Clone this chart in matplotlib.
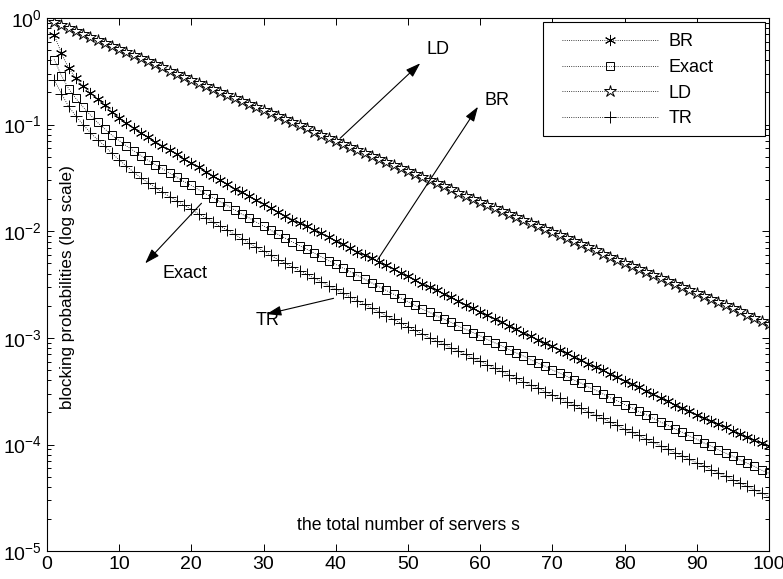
import numpy as np
import matplotlib
matplotlib.use('Agg')
import matplotlib.pyplot as plt
from matplotlib.patches import Rectangle

plt.rcParams['font.family'] = ['Liberation Sans', 'DejaVu Sans']
plt.rcParams['mathtext.default'] = 'regular'

# number of servers
servers = list(range(1, 101))

# blocking probabilities, stored as log10 values
log_br = [
    -0.16, -0.33, -0.47, -0.565, -0.64, -0.70, -0.76, -0.82, -0.88, -0.935,
    -0.985, -1.035, -1.08, -1.12, -1.16, -1.20, -1.24, -1.28, -1.32, -1.36,
    -1.40, -1.44, -1.48, -1.52, -1.56, -1.60, -1.635, -1.67, -1.71, -1.745,
    -1.78, -1.82, -1.855, -1.89, -1.92, -1.955, -1.99, -2.02, -2.055, -2.09,
    -2.12, -2.155, -2.19, -2.22, -2.255, -2.29, -2.32, -2.355, -2.39, -2.42,
    -2.455, -2.49, -2.52, -2.555, -2.59, -2.62, -2.655, -2.69, -2.72, -2.755,
    -2.785, -2.82, -2.85, -2.885, -2.92, -2.95, -2.985, -3.015, -3.05, -3.08,
    -3.115, -3.145, -3.175, -3.21, -3.24, -3.27, -3.305, -3.335, -3.37, -3.40,
    -3.43, -3.465, -3.495, -3.53, -3.56, -3.59, -3.625, -3.655, -3.685, -3.72,
    -3.75, -3.78, -3.81, -3.84, -3.875, -3.905, -3.93, -3.96, -3.985, -4.01,
]
log_exact = [
    -0.39, -0.54, -0.665, -0.755, -0.835, -0.91, -0.98, -1.04, -1.10, -1.15,
    -1.20, -1.245, -1.29, -1.335, -1.375, -1.415, -1.455, -1.495, -1.535, -1.57,
    -1.61, -1.65, -1.685, -1.725, -1.76, -1.80, -1.84, -1.875, -1.915, -1.95,
    -1.99, -2.03, -2.065, -2.10, -2.135, -2.17, -2.205, -2.24, -2.275, -2.31,
    -2.345, -2.38, -2.415, -2.45, -2.485, -2.52, -2.555, -2.59, -2.625, -2.66,
    -2.695, -2.73, -2.76, -2.795, -2.825, -2.855, -2.89, -2.92, -2.95, -2.98,
    -3.015, -3.045, -3.075, -3.11, -3.14, -3.17, -3.205, -3.235, -3.265, -3.30,
    -3.33, -3.36, -3.395, -3.425, -3.46, -3.49, -3.525, -3.56, -3.59, -3.625,
    -3.655, -3.69, -3.72, -3.755, -3.79, -3.82, -3.855, -3.885, -3.92, -3.95,
    -3.985, -4.015, -4.05, -4.08, -4.11, -4.145, -4.175, -4.205, -4.24, -4.27,
]
log_ld = [
    -0.035, -0.064, -0.092, -0.121, -0.149, -0.178, -0.207, -0.235, -0.264, -0.292,
    -0.321, -0.350, -0.378, -0.407, -0.435, -0.464, -0.493, -0.521, -0.550, -0.578,
    -0.607, -0.636, -0.664, -0.693, -0.721, -0.750, -0.779, -0.807, -0.836, -0.864,
    -0.893, -0.922, -0.950, -0.979, -1.007, -1.036, -1.065, -1.093, -1.122, -1.150,
    -1.179, -1.208, -1.236, -1.265, -1.293, -1.322, -1.351, -1.379, -1.408, -1.436,
    -1.465, -1.494, -1.522, -1.551, -1.579, -1.608, -1.637, -1.665, -1.694, -1.722,
    -1.751, -1.780, -1.808, -1.837, -1.865, -1.894, -1.923, -1.951, -1.980, -2.008,
    -2.037, -2.066, -2.094, -2.123, -2.151, -2.180, -2.209, -2.237, -2.266, -2.294,
    -2.323, -2.352, -2.380, -2.409, -2.437, -2.466, -2.495, -2.523, -2.552, -2.580,
    -2.609, -2.638, -2.666, -2.695, -2.723, -2.752, -2.781, -2.809, -2.838, -2.866,
]
log_tr = [
    -0.58, -0.71, -0.83, -0.92, -1.00, -1.075, -1.14, -1.20, -1.27, -1.33,
    -1.39, -1.445, -1.50, -1.545, -1.59, -1.635, -1.675, -1.715, -1.755, -1.795,
    -1.835, -1.875, -1.915, -1.955, -1.99, -2.03, -2.07, -2.11, -2.15, -2.185,
    -2.225, -2.265, -2.30, -2.335, -2.37, -2.405, -2.44, -2.475, -2.51, -2.545,
    -2.58, -2.615, -2.65, -2.685, -2.72, -2.755, -2.79, -2.825, -2.86, -2.895,
    -2.93, -2.965, -3.00, -3.03, -3.06, -3.095, -3.125, -3.155, -3.19, -3.22,
    -3.25, -3.28, -3.315, -3.345, -3.375, -3.41, -3.44, -3.47, -3.505, -3.535,
    -3.565, -3.60, -3.63, -3.66, -3.695, -3.725, -3.755, -3.79, -3.82, -3.855,
    -3.885, -3.915, -3.95, -3.98, -4.01, -4.045, -4.075, -4.105, -4.14, -4.17,
    -4.20, -4.235, -4.265, -4.295, -4.33, -4.36, -4.39, -4.425, -4.455, -4.49,
]

# arrow annotations: label, text position, arrow tail, arrow head (s, probability)
notes = [
    ('LD', (54.2, 0.51), (40.6, 0.0744), (51.7, 0.376)),
    ('BR', (62.3, 0.17), (45.8, 5.4e-3), (59.7, 0.147)),
    ('Exact', (19.1, 4.06e-3), (21.4, 0.0183), (13.6, 5.0e-3)),
    ('TR', (30.6, 1.47e-3), (39.7, 2.35e-3), (30.4, 1.67e-3)),
]

fig = plt.figure(figsize=(7.83, 5.79), dpi=100)
ax = fig.add_axes([0.060, 0.048, 0.922, 0.921])

style = dict(color='k', linestyle=':', linewidth=0.6, markeredgewidth=0.7)
ax.semilogy(servers, 10 ** np.array(log_br), marker=(6, 2, 0), markersize=8,
            label='BR', **style)
ax.semilogy(servers, 10 ** np.array(log_exact), marker='s', markersize=6,
            markerfacecolor='none', label='Exact', **style)
ax.semilogy(servers, 10 ** np.array(log_ld), marker='*', markersize=9,
            markerfacecolor='white', label='LD', **style)
ax.semilogy(servers, 10 ** np.array(log_tr), marker='+', markersize=8,
            label='TR', **style)

for name, txt, tail, head in notes:
    ax.annotate('', xy=head, xytext=tail,
                arrowprops=dict(arrowstyle='-|>,head_length=0.9,head_width=0.3',
                                color='k', lw=0.8, shrinkA=0, shrinkB=0))
    ax.text(txt[0], txt[1], name, fontsize=13, ha='center', va='center')

ax.set_xlim(0, 100)
ax.set_ylim(1e-5, 1)
ax.set_xticks(np.arange(0, 101, 10))
ax.tick_params(which='both', direction='in', top=True, right=True,
               labelsize=14, width=0.7)
ax.tick_params(which='major', length=5)
ax.tick_params(which='minor', length=3)
for sp in ax.spines.values():
    sp.set_linewidth(0.8)

ax.set_xlabel('the total number of servers s', fontsize=12.7)
ax.xaxis.set_label_coords(0.5, 0.049)
ax.xaxis.label.set_va('center')
ax.set_ylabel('blocking probabilities (log scale)', fontsize=12.3)
ax.yaxis.set_label_coords(0.028, 0.495)
ax.yaxis.label.set_va('center')

# legend box drawn separately so the padding can be set freely
ax.add_patch(Rectangle((0.6866, 0.7786), 0.3079, 0.2145, transform=ax.transAxes,
                       facecolor='white', edgecolor='k', linewidth=0.8, zorder=4))
leg = ax.legend(loc='upper left', bbox_to_anchor=(0.7133, 0.971),
                borderaxespad=0, borderpad=0, frameon=False, fontsize=13,
                handlelength=5.3, handletextpad=0.6, labelspacing=0.48)
leg.set_zorder(5)

fig.savefig('out.png', dpi=100)
